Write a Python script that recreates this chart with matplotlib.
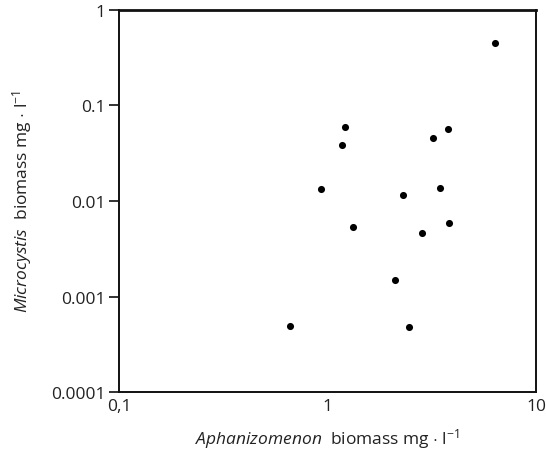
import matplotlib
matplotlib.use("Agg")
import matplotlib.pyplot as plt
from matplotlib.ticker import FixedLocator, FixedFormatter, NullLocator

plt.rcParams['font.family'] = ['Open Sans', 'DejaVu Sans']
plt.rcParams['mathtext.fontset'] = 'custom'
plt.rcParams['mathtext.rm'] = 'Open Sans'
plt.rcParams['mathtext.it'] = 'Open Sans:italic'

aphanizomenon = [0.66, 0.925, 1.17, 1.21, 1.33, 2.29, 2.83, 3.2, 3.46, 3.77, 3.82, 2.10, 2.45, 6.35]
microcystis = [0.00049, 0.0134, 0.0386, 0.0596, 0.00534, 0.0116, 0.00462, 0.0457, 0.0137, 0.0567, 0.0059, 0.00149, 0.00048, 0.45]

xticks = [0.1, 1, 10]
xticklabels = ["0,1", "1", "10"]
yticks = [0.0001, 0.001, 0.01, 0.1, 1]
yticklabels = ["0.0001", "0.001", "0.01", "0.1", "1"]

fig = plt.figure(figsize=(5.46, 4.56), dpi=100)
ax = fig.add_axes([0.218, 0.138, 0.764, 0.838])
ax.scatter(aphanizomenon, microcystis, s=26, color='black', zorder=3, linewidths=0)
ax.set_xscale('log')
ax.set_yscale('log')
ax.set_xlim(0.1, 10)
ax.set_ylim(0.0001, 1)

ax.xaxis.set_major_locator(FixedLocator(xticks))
ax.xaxis.set_major_formatter(FixedFormatter(xticklabels))
ax.xaxis.set_minor_locator(NullLocator())
ax.yaxis.set_major_locator(FixedLocator(yticks))
ax.yaxis.set_major_formatter(FixedFormatter(yticklabels))
ax.yaxis.set_minor_locator(NullLocator())

ax.tick_params(axis='y', direction='out', length=7, width=1.3, labelsize=12.5, pad=3, colors='#222222')
ax.tick_params(axis='x', direction='out', length=0, labelsize=12.5, pad=4, colors='#222222')
for sp in ax.spines.values():
    sp.set_linewidth(1.4)
    sp.set_color('#111111')
ax.spines['top'].set_linewidth(2.0)

ax.set_xlabel(r"$\it{Aphanizomenon}$  biomass mg $\cdot$ l$^{-1}$", fontsize=12.5, labelpad=9, color='#222222')
ax.set_ylabel(r"$\it{Microcystis}$  biomass mg $\cdot$ l$^{-1}$", fontsize=12.5, labelpad=12, color='#222222')

fig.savefig("out.png", dpi=100, facecolor='white')
